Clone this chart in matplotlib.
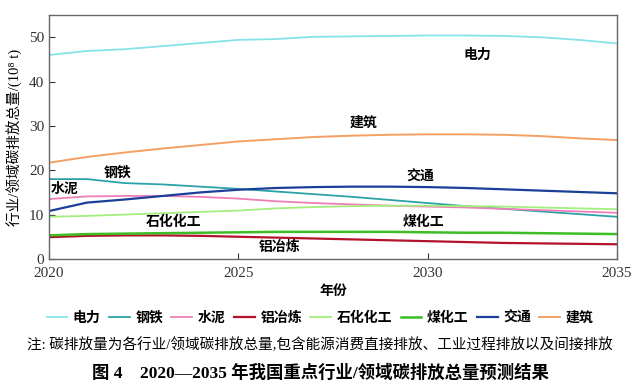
import numpy as np
import matplotlib
matplotlib.use('Agg')
import matplotlib.pyplot as plt

plt.rcParams['font.family'] = ['Liberation Serif', 'Noto Sans CJK SC']

years = np.arange(2020, 2036)

# emissions, 10^8 t
power = [46.0, 46.9, 47.3, 48.0, 48.7, 49.4, 49.6, 50.1, 50.2, 50.3, 50.4, 50.4, 50.3, 50.0, 49.4, 48.6]
steel = [18.0, 18.0, 17.1, 16.8, 16.3, 15.8, 15.2, 14.6, 14.0, 13.3, 12.6, 11.9, 11.3, 10.7, 10.1, 9.5]
cement = [13.5, 14.1, 14.2, 14.2, 14.0, 13.6, 13.0, 12.6, 12.3, 12.0, 11.8, 11.6, 11.3, 11.0, 10.7, 10.4]
aluminum = [4.9, 5.2, 5.3, 5.3, 5.2, 5.0, 4.8, 4.6, 4.4, 4.2, 4.0, 3.8, 3.6, 3.5, 3.4, 3.3]
petrochem = [9.5, 9.7, 10.0, 10.3, 10.6, 10.9, 11.4, 11.7, 11.9, 12.0, 12.0, 11.9, 11.8, 11.6, 11.4, 11.2]
coalchem = [5.3, 5.6, 5.7, 5.8, 5.9, 6.0, 6.1, 6.1, 6.1, 6.1, 6.0, 5.9, 5.9, 5.8, 5.7, 5.6]
transport = [10.8, 12.7, 13.4, 14.2, 15.0, 15.6, 16.0, 16.2, 16.3, 16.3, 16.2, 16.0, 15.7, 15.4, 15.1, 14.8]
building = [21.7, 23.0, 24.0, 24.9, 25.7, 26.5, 27.0, 27.5, 27.8, 28.0, 28.1, 28.1, 28.0, 27.7, 27.2, 26.8]

names = ['电力', '钢铁', '水泥', '铝冶炼', '石化化工', '煤化工', '交通', '建筑']
series = [power, steel, cement, aluminum, petrochem, coalchem, transport, building]
colors = ['#86e3ea', '#2ba3a6', '#ef7fb6', '#b2122c', '#a3ef7d', '#3dbd25', '#1b3f99', '#f3a062']
widths = [1.3, 1.3, 1.3, 1.6, 1.3, 1.8, 1.6, 1.4]

# label positions (year, value)
label_pos = {'电力': (2031.3, 46.0), '建筑': (2028.3, 30.7), '交通': (2029.8, 18.5),
             '煤化工': (2029.9, 8.4), '钢铁': (2021.8, 19.5), '水泥': (2020.4, 15.8),
             '石化化工': (2023.3, 8.4), '铝冶炼': (2026.1, 2.8)}

cjk = ['Noto Sans CJK SC']
mixed = ['Liberation Serif', 'Noto Sans CJK SC']

fig = plt.figure(figsize=(6.4, 3.87), dpi=100)
ax = fig.add_axes([0.0766, 0.331, 0.8875, 0.630])

for n, s, c, w in zip(names, series, colors, widths):
    ax.plot(years, s, color=c, lw=w, label=n)

for n, (x, y) in label_pos.items():
    ax.text(x, y, n, ha='center', va='center', fontsize=10, fontweight='bold', family=cjk)

ax.set_xlim(2020, 2035)
ax.set_ylim(0, 55)
ax.set_xticks([2020, 2025, 2030, 2035])
ax.set_yticks([0, 10, 20, 30, 40, 50])
ax.tick_params(direction='in', labelsize=11, length=4, width=0.8, colors='#333333')
ax.tick_params(axis='x', pad=6)
for sp in ax.spines.values():
    sp.set_color('#666666')
    sp.set_linewidth(1.0)

ax.set_xlabel('年份', fontsize=10, fontweight='bold', family=cjk, labelpad=3)
ax.set_ylabel('行业/领域碳排放总量/(10⁸ t)', fontsize=10.5, family=mixed, labelpad=4)

fig.legend(loc='center', bbox_to_anchor=(0.5, 0.178), ncol=8, frameon=False,
           handlelength=1.5, handletextpad=0.4, columnspacing=0.6,
           prop={'family': cjk, 'weight': 'bold', 'size': 10})

fig.text(0.5, 0.108, '注: 碳排放量为各行业/领域碳排放总量,包含能源消费直接排放、工业过程排放以及间接排放',
         ha='center', va='center', fontsize=10.5, family=mixed)
fig.text(0.5, 0.036, '图 4    2020—2035 年我国重点行业/领域碳排放总量预测结果',
         ha='center', va='center', fontsize=12.5, fontweight='bold', family=mixed)

fig.savefig('out.png', dpi=100)
